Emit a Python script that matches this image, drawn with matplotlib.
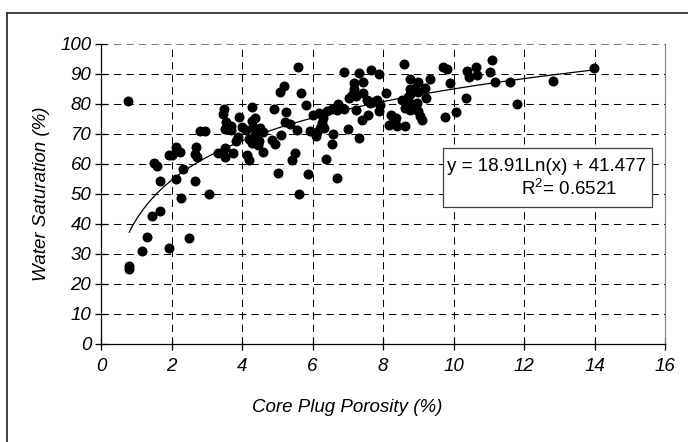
# -*- coding: utf-8 -*-
import numpy as np
import matplotlib
matplotlib.use('Agg')
import matplotlib.pyplot as plt
from matplotlib.lines import Line2D
from matplotlib.patches import Rectangle

# core plug porosity (%) vs water saturation (%)
porosity = [0.80, 0.80, 1.15, 1.30, 1.46, 1.68, 1.93, 2.51, 2.28, 3.06, 2.13, 2.68, 1.67,
            2.33, 1.51, 1.58, 1.93, 2.00, 2.13, 2.24, 2.70, 2.68, 2.71, 2.82, 2.95, 0.76,
            3.33, 3.52, 3.52, 3.75, 4.13, 4.20, 4.27, 4.46, 4.60, 3.82, 3.88, 4.20, 4.48,
            4.84, 4.94, 4.37, 3.52, 3.70, 3.99, 4.11, 4.50, 4.60, 4.32, 3.56, 3.68, 4.27,
            4.37, 3.91, 3.45, 3.48, 4.27, 4.90, 5.22, 5.35, 5.24, 5.10, 5.55, 5.50, 5.41,
            5.01, 5.63, 5.60, 5.20, 5.08, 5.67, 5.81,
            5.88, 6.69, 6.38, 6.54, 7.33, 6.58, 5.92, 6.12, 6.10, 6.21, 6.33, 7.02, 6.26,
            6.31, 6.00, 6.19, 6.42, 6.56, 6.69, 6.73, 6.89, 7.22, 6.89, 7.04, 7.11, 7.18,
            7.42, 7.19, 7.44, 7.22, 7.33, 7.66, 7.90, 7.54, 7.63, 7.82, 7.92, 7.88, 7.73,
            7.58, 7.40, 8.09, 8.22, 8.36, 8.32, 8.18, 8.41, 8.61,
            8.60, 9.71, 9.81, 8.77, 9.00, 9.33, 8.77, 8.90, 9.19, 9.00, 8.78, 8.72, 9.90,
            10.35, 8.55, 8.67, 8.83, 8.96, 9.21, 8.62, 8.77, 8.98, 9.05, 9.10, 10.08, 9.77,
            10.38, 10.45, 10.65, 10.68, 11.04, 11.08, 11.18, 11.60, 12.81, 13.99, 11.81]
saturation = [26.0, 25.0, 31.0, 35.6, 42.7, 44.3, 32.1, 35.2, 48.8, 49.9, 55.0, 54.4, 54.2,
              58.4, 60.2, 59.4, 63.1, 63.0, 65.8, 64.1, 65.8, 63.3, 62.4, 71.0, 71.0, 81.0,
              63.6, 65.2, 62.2, 63.7, 63.0, 61.4, 66.9, 66.3, 64.1, 67.8, 69.1, 68.3, 67.7,
              68.0, 66.8, 69.7, 71.8, 71.3, 72.4, 71.5, 71.9, 70.8, 72.4, 74.1, 72.7, 74.5,
              75.2, 75.8, 76.8, 78.3, 78.9, 78.4, 74.1, 73.4, 77.4, 69.8, 71.3, 63.8, 61.2,
              57.1, 50.0, 92.2, 86.0, 84.1, 83.6, 79.7,
              56.7, 55.5, 61.6, 66.8, 68.6, 69.9, 71.0, 70.6, 69.3, 71.9, 72.1, 71.6, 73.6,
              75.4, 76.2, 77.0, 77.6, 78.5, 78.0, 80.0, 78.3, 78.0, 90.6, 81.9, 83.0, 87.0,
              87.4, 85.0, 83.6, 82.6, 90.2, 91.3, 90.1, 81.5, 80.2, 81.3, 79.7, 77.6, 80.8,
              76.2, 74.7, 83.7, 76.3, 75.5, 74.4, 73.0, 72.8, 72.7,
              93.2, 92.4, 91.6, 88.2, 87.3, 88.2, 85.0, 85.5, 85.5, 84.0, 83.5, 82.4, 87.1,
              82.0, 81.3, 80.6, 79.9, 80.2, 81.9, 78.6, 78.0, 77.6, 76.0, 74.7, 77.4, 75.8,
              91.0, 89.0, 92.2, 89.6, 90.8, 94.7, 87.2, 87.4, 87.7, 92.1, 80.0]

# excel log trendline from the chart label
coef_a = 18.91
coef_b = 41.477
r2 = 0.6521
trend_start = 0.80

x_ticks = [0, 2, 4, 6, 8, 10, 12, 14, 16]
y_ticks = [0, 10, 20, 30, 40, 50, 60, 70, 80, 90, 100]

font = 'Liberation Sans'
fs = 13.5
plt.rcParams['mathtext.fontset'] = 'custom'
plt.rcParams['mathtext.rm'] = font

fig = plt.figure(figsize=(6.88, 4.42), dpi=100)
ax = fig.add_axes([101/688, 1-344/442, 564/688, 300/442])

ax.scatter(porosity, saturation, s=52, color='black', zorder=3, linewidths=0)

xt = np.linspace(trend_start, max(porosity), 200)
ax.plot(xt, coef_a*np.log(xt) + coef_b, color='black', lw=0.9, zorder=4)

# dashed grid (drawn by hand, top line grey)
dash = (0, (7, 5))
for yv in y_ticks[1:]:
    ax.axhline(yv, color='#808080' if yv == 100 else 'black', lw=0.75, ls=dash, zorder=1)
for xv in x_ticks[1:-1]:
    ax.axvline(xv, color='black', lw=0.75, ls=dash, zorder=1)

ax.set_xlim(0, 16)
ax.set_ylim(0, 100)
ax.set_xticks(x_ticks)
ax.set_yticks(y_ticks)
ax.set_xticklabels([str(t) for t in x_ticks], fontstyle='italic', family=font, fontsize=fs)
ax.set_yticklabels([str(t) for t in y_ticks], fontstyle='italic', family=font, fontsize=fs)
ax.tick_params(axis='both', direction='inout', length=8, width=0.9, color='black')
ax.tick_params(axis='x', pad=6)
ax.tick_params(axis='y', pad=3)

ax.spines['top'].set_visible(False)
ax.spines['right'].set_color('#808080')
ax.spines['left'].set_linewidth(0.9)
ax.spines['bottom'].set_linewidth(0.9)

# equation box
ax.add_patch(Rectangle((0.606, 0.457), 0.371, 0.196, transform=ax.transAxes,
                       facecolor='white', edgecolor='#404040', lw=0.9, zorder=6))
ax.text(0.613, 0.593, 'y = %.2fLn(x) + %.3f' % (coef_a, coef_b), transform=ax.transAxes,
        family=font, fontsize=fs, va='center', ha='left', zorder=7)
ax.text(0.745, 0.517, 'R$^{2}$= %.4f' % r2, transform=ax.transAxes, family=font,
        fontsize=fs, va='center', ha='left', zorder=7)

fig.text(347/688, 1-408/442, 'Core Plug Porosity (%)', fontstyle='italic', family=font,
         fontsize=fs, ha='center', va='center')
fig.text(42/688, 1-194/442, 'Water Saturation (%)', fontstyle='italic', family=font,
         fontsize=fs, ha='center', va='center', rotation=90)

# chart area border (only left and top visible)
fig.add_artist(Line2D([7/688, 7/688], [-0.1, 1-13/442], transform=fig.transFigure,
                      color='#303030', lw=1.3))
fig.add_artist(Line2D([7/688, 1.1], [1-13/442, 1-13/442], transform=fig.transFigure,
                      color='#303030', lw=1.3))

plt.savefig('out.png', dpi=100)
